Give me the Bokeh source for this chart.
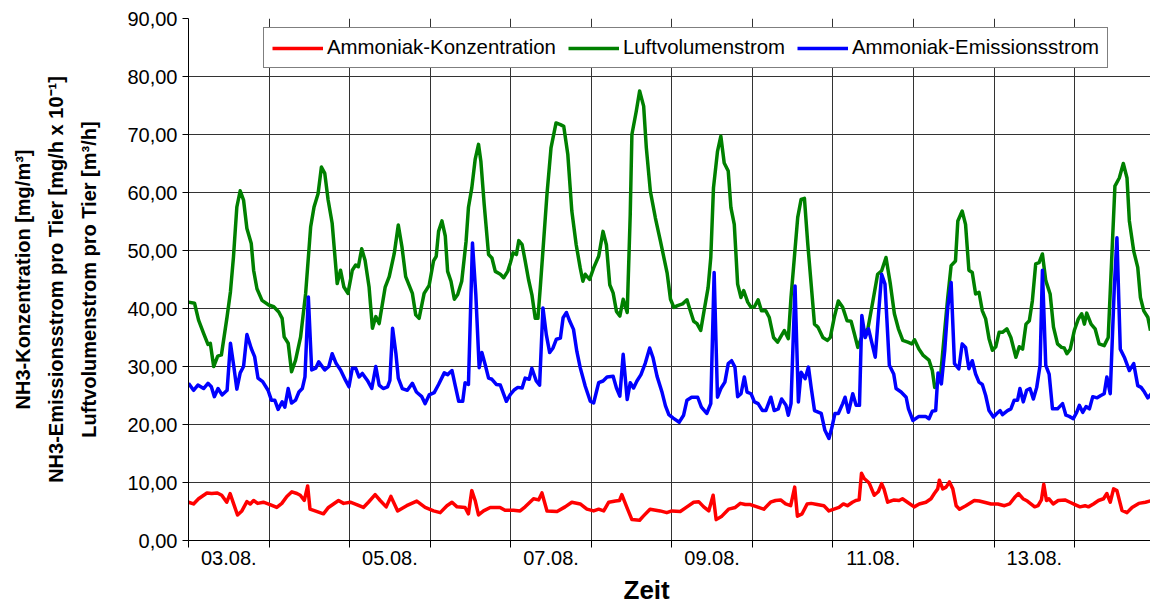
from bokeh.plotting import figure
from bokeh.models import Range1d, FixedTicker, CustomJSTickFormatter, Title
from bokeh.embed import file_html
from bokeh.resources import INLINE

# ---------------- data (hours since 03.08. 00:00) ----------------
day_labels = ["03.08.", "05.08.", "07.08.", "09.08.", "11.08.", "13.08."]
n_days = 12
y_ticks = [0, 10, 20, 30, 40, 50, 60, 70, 80, 90]

conc_h = [0, 1.5, 3, 5.5, 6.9, 8.6, 9.9, 11.4, 12.4, 13.4, 14.6, 15.9, 17.4, 18.4, 19.4, 20.6, 22.3,
          24.3, 26.3, 27.8, 29.3, 30.8, 32.3, 33.3, 34.5, 35.5, 36.2, 37.7, 40.2, 41.7, 44.7, 46.2,
          48.2, 50.1, 52.1, 53.6, 55.6, 57.1, 58.9, 60.3, 62.3, 65, 68, 70.5, 73, 75, 77, 78.5, 80,
          82.4, 83.4, 84.4, 85.4, 86.4, 87.9, 89.9, 92.8, 94.3, 96.8, 98.8, 100.3, 102.8, 104.3, 105.3,
          106.8, 109.8, 112.2, 114.2, 116.7, 118.7, 120.7, 122.2, 123.7, 125.2, 127.2, 128.4, 129.1,
          130.6, 132.1, 134.4, 135.5, 137.5, 140.5, 142.5, 144, 146.5, 148.5, 150.5, 152, 153.5, 155,
          156.3, 157.2, 158.9, 160.9, 162.9, 164.4, 165.9, 167.4, 169.4, 171.4, 173.4, 174.9, 176.4,
          177.9, 179.4, 180.6, 181.4, 182.8, 184.3, 185.5, 187.3, 189.3, 190.8, 192.3, 193.8, 195.1,
          196.3, 197.8, 198.8, 199.8, 200.5, 201.3, 202.8, 204.3, 205.5, 206.5, 207.2, 208.3, 210.2,
          211.7, 212.7, 214.2, 216.2, 217.7, 219.7, 221.2, 222.2, 223.2, 223.7, 224.7, 225.7, 226.7,
          227.7, 228.7, 229.7, 231.6, 234.1, 235.6, 237.1, 239.1, 241.1, 243.1, 244.6, 246.1, 247.3,
          248.6, 249.9, 252.1, 253.1, 254.1, 254.8, 255.6, 256.3, 257.6, 259.1, 261.1, 262.6, 264.1,
          265.6, 267.1, 268.1, 269.6, 271.1, 272.6, 273.6, 274.6, 275.6, 276.6, 278.1, 279.6, 281.1,
          283.1, 285.1, 287.1]
conc_v = [6.6, 6.3, 7.2, 8.2, 8.1, 8.2, 7.8, 6.6, 8.1, 6.4, 4.4, 5.1, 6.7, 6.3, 6.9, 6.4, 6.6,
          6.2, 5.7, 6.4, 7.6, 8.4, 8.1, 7.8, 6.9, 9.4, 5.4, 5.1, 4.6, 5.7, 6.9, 6.4,
          6.6, 6.2, 5.7, 6.6, 7.9, 6.9, 5.8, 7.6, 5.1, 6.0, 6.8, 5.7, 5.1, 4.8, 6.0, 6.6, 5.8,
          5.7, 4.6, 8.6, 6.9, 4.4, 5.1, 5.7, 5.7, 5.2, 5.2, 5.1, 5.8, 7.2, 7.0, 8.2,
          5.1, 5.0, 5.8, 6.6, 6.3, 5.4, 5.1, 5.4, 5.1, 6.6, 6.8, 6.9, 7.9,
          5.7, 3.6, 3.5, 4.2, 5.4, 5.1, 4.8, 5.1, 5.0, 5.8, 6.6, 6.7, 5.8, 5.1,
          7.8, 3.6, 4.2, 5.4, 5.7, 6.4, 6.2, 6.2, 5.8, 5.4, 6.6, 6.9, 7.0,
          6.3, 6.0, 9.2, 4.2, 4.6, 6.3, 6.4, 6.2, 6.0, 5.1, 5.4, 5.7, 6.3,
          6.0, 6.6, 6.9, 7.0, 11.6, 10.7, 9.9, 7.8, 8.4, 9.8, 8.9, 6.6, 7.0,
          6.9, 7.2, 6.6, 5.8, 6.3, 6.6, 7.2, 8.1, 8.9, 10.4, 8.9, 9.2, 10.1,
          8.9, 6.0, 5.4, 6.0, 6.9, 6.8, 6.6, 6.3, 6.3, 6.0, 6.3, 7.4, 8.1,
          7.2, 6.8, 5.8, 6.0, 7.0, 9.7, 6.9, 7.2, 6.3, 6.9, 7.0, 6.6, 6.2,
          5.8, 6.0, 5.8, 6.3, 6.9, 7.2, 8.1, 6.6, 8.9, 8.6, 5.2, 4.8, 5.7,
          6.4, 6.6, 6.9]

air_h = [0, 1.8, 3, 4.5, 5.8, 6.5, 7.5, 8.7, 9.8, 11.5, 12.5, 13.4, 14.4, 15.4, 16.4, 17.4, 18.7,
         19.4, 20.4, 21.9, 23.9, 25.4, 26.9, 27.9, 28.5, 29.7, 30.7, 31.9, 33.4, 34.9, 36.4, 37.4,
         38.6, 39.6, 40.6, 41.6, 42.8, 44.3, 45.3, 46.3, 47.5, 48.8, 49.8, 50.6, 51.6, 52.6, 53.8,
         54.8, 55.8, 56.8, 58.6, 59.8, 61.3, 62.5, 63.6, 64.7, 66.7, 67.7, 68.7, 70.2, 71.7, 73,
         73.8, 74.5, 75.5, 76.5, 77.2, 78.2, 79.2, 80.2, 81.4, 82.7, 83.4, 84.4, 85.4, 86.4, 87.1,
         88.1, 89.4, 90.4, 91.4, 92.9, 93.9, 95.1, 95.9, 96.7, 97.7, 98.4, 99.4, 100.3, 101.3,
         102.3, 103.3, 104.1, 104.8, 105.8, 106.8, 108, 109.5, 110.8, 111.8, 113, 114.2, 115.5,
         116.7, 117.5, 118.2, 119.5, 120.7, 122.2, 123.5, 124.5, 125.5, 126.5, 127.5, 128.5, 129.5,
         130.7, 131.6, 132.1, 133.4, 134.4, 135.6, 136.4, 137.6, 139.1, 140.6, 142.6, 143.6, 144.6,
         145.7, 147.2, 148.5, 149.5, 150.5, 151.5, 152.6, 153.6, 154.8, 155.6, 156.4, 157.6, 158.6,
         159.6, 160.8, 161.6, 162.6, 163.6, 164.6, 165.4, 166.6, 167.6, 168.6, 169.7, 170.7, 172,
         173, 174.3, 175.5, 177.5, 178.7, 179.5, 180.5, 181.5, 182.5, 183.5, 184.5, 185.5, 186.5,
         187.5, 189, 190.3, 191.2, 192.4, 193.6, 194.9, 196.2, 197.4, 198.4, 199.4, 200.9, 202.4,
         203.9, 205.3, 206.5, 207.8, 209.1, 210.3, 211.5, 212.8, 214.3, 215.5, 216.3, 217.6, 218.9,
         220.6, 221.6, 222.3, 223.1, 224.1, 225.1, 226.2, 227.2, 228.5, 229.2, 230.5, 231.5, 232.5,
         233.5, 234.5, 235.5, 236.5, 237.5, 238.5, 239.5, 240.5, 241.5, 242.5, 243.8, 245, 246.5,
         247.5, 248.5, 249.5, 250.5, 251.4, 252.4, 253.4, 254.4, 255.4, 256.7, 257.7, 258.9, 260.1,
         260.9, 261.7, 262.7, 263.9, 265.1, 266.1, 266.9, 267.6, 268.9, 270.1, 271.3, 272.8, 274,
         274.8, 276, 277.3, 278.5, 279.6, 280.3, 281.6, 282.8, 283.6, 284.6, 285.8, 286.6]
air_v = [41.1, 40.9, 38.0, 35.7, 33.8, 34.0, 30.0, 31.8, 32.0, 38.6, 42.9, 48.9, 57.5, 60.3, 58.7, 53.8, 51.2,
         46.6, 43.4, 41.4, 40.6, 40.3, 39.4, 38.3, 35.1, 34.0, 29.1, 31.1, 35.1, 42.6, 54.1, 57.5,
         59.8, 64.4, 63.3, 58.7, 54.7, 44.3, 46.6, 43.7, 42.6, 46.6, 47.5, 47.2, 50.3, 48.3, 43.7,
         36.6, 38.6, 37.4, 43.7, 45.5, 49.5, 54.4, 50.6, 45.5, 42.6, 38.9, 38.3, 42.6, 44.0, 48.2,
         49.0, 53.3, 55.1, 52.5, 46.4, 44.7, 41.6, 42.4, 44.7, 51.6, 57.4, 60.8, 65.7, 68.3, 65.4,
         57.9, 49.3, 48.7, 46.4, 45.9, 45.3, 46.4, 47.9, 49.6, 49.3, 51.7, 51.0, 48.2, 45.0,
         42.4, 38.3, 38.3, 43.6, 51.6, 59.7, 67.7, 72.0, 71.7, 71.4, 66.6, 56.8, 51.0,
         47.0, 44.7, 45.9, 45.0, 47.0, 49.0, 53.3, 51.0, 44.1, 42.7, 39.5, 38.7, 41.6,
         39.3, 56.2, 70.0, 74.0, 77.5, 74.9, 67.7, 60.2, 55.6, 51.6, 46.1, 41.6, 40.2,
         40.5, 40.8, 41.5, 39.6, 37.8, 37.4, 36.2, 39.6, 43.6, 48.8, 60.8, 67.1, 69.7,
         65.1, 63.7, 57.4, 54.5, 44.2, 41.9, 43.1, 41.1, 40.2, 40.3, 41.5, 39.6, 39.6,
         38.5, 35.0, 34.2, 36.2, 34.8, 41.9, 48.8, 55.7, 58.8, 59.0, 51.1, 44.2, 37.3,
         36.8, 35.0, 34.5, 35.0, 38.5, 41.3, 40.2, 37.9, 37.8, 35.6, 33.3, 35.6, 36.5,
         41.3, 45.9, 46.5, 48.8, 44.2, 39.1, 36.5, 34.5, 34.2, 33.9, 34.6, 33.0, 31.9,
         31.1, 29.3, 26.4, 27.0, 28.7, 35.0, 41.9, 47.4, 48.2, 55.1, 56.8, 54.5, 46.6,
         46.2, 42.5, 42.8, 39.6, 38.2, 34.8, 32.8, 33.4, 35.9, 35.9, 36.5, 35.0, 31.6,
         33.4, 33.0, 37.3, 37.9, 41.3, 47.7, 47.9, 49.4, 44.8, 42.5, 36.8, 33.9, 33.3,
         33.2, 32.2, 33.0, 36.2, 38.2, 39.1, 37.3, 39.2, 37.3, 36.5, 33.9, 33.6, 35.0,
         45.4, 61.1, 62.5, 65.0, 62.5, 55.1, 49.9, 47.1, 41.9, 39.6, 38.5, 36.2]

em_h = [0, 1.5, 2.8, 4.5, 5.8, 6.8, 7.7, 8.8, 10, 11.5, 12.5, 13.5, 14.4, 15.4, 16.4, 17.4, 18.7,
        19.7, 20.7, 22.1, 23.7, 24.7, 25.7, 26.7, 27.9, 28.7, 29.7, 30.7, 31.9, 32.9, 33.9, 34.7,
        35.7, 36.7, 37.9, 38.8, 40.6, 41.8, 42.8, 44, 45.3, 46.8, 47.8, 48.8, 49.8, 50.8, 51.8,
        53.3, 54.6, 55.8, 56.8, 58, 59.3, 60, 60.8, 61.8, 62.5, 63.7, 65.2, 66.7, 67.9, 69.5,
        70.5, 71.7, 73.2, 74.5, 76.2, 77.2, 78.5, 79.5, 80.5, 81.7, 82.4, 83.4, 84.6, 85.6, 86.6,
        87.4, 88.4, 89.4, 90.4, 91.7, 92.9, 94.7, 95.9, 97.1, 98.1, 99.4, 100.3, 101.5, 102.3,
        103.6, 104.6, 105.6, 106.6, 107.6, 108.6, 109.6, 110.8, 111.6, 112.6, 113.6, 114.7, 115.7,
        116.7, 118.2, 119.7, 120.7, 122.2, 123.5, 124.7, 126.5, 127.5, 128.5, 129.5, 130.7, 131.6,
        132.6, 133.6, 134.8, 136.1, 137.4, 138.4, 139.6, 141.1, 142.1, 143.1, 144.4, 146.2, 147.5,
        148.5, 149.9, 151.7, 152.8, 154.4, 155.6, 156.6, 157.6, 158.6, 159.8, 160.8, 161.8, 162.8,
        163.6, 164.6, 165.6, 166.4, 167.6, 168.6, 169.7, 171, 172, 173.5, 174.5, 175.7, 176.7,
        178, 178.7, 179.5, 180.7, 181.7, 182.5, 183.7, 184.7, 185.5, 186.5, 188.5, 189.6, 190.8,
        191.6, 192.6, 193.6, 194.9, 195.6, 196.6, 197.9, 198.9, 199.9, 200.6, 201.6, 202.6, 204.6,
        205.5, 206.5, 207.5, 208.8, 210.1, 210.8, 212.3, 213.8, 214.5, 215.8, 217.6, 219.6, 220.6,
        221.6, 222.6, 223.3, 224.3, 225.3, 226.2, 227.2, 228.2, 229.5, 230.5, 231.5, 232.5, 233.5,
        234.5, 235.5, 236.5, 237.5, 238.5, 239.8, 240.8, 241.8, 242.5, 244, 245, 246, 247, 247.7,
        248.7, 249.7, 250.7, 251.7, 252.7, 253.7, 254.4, 255.4, 256.4, 257.4, 258.9, 260.4, 261.4,
        262.4, 263.6, 264.6, 265.4, 266.4, 267.4, 268.4, 269.4, 270.7, 271.8, 272.8, 273.6, 274.6,
        275.8, 276.6, 277.6, 278.8, 280.3, 281.6, 282.8, 283.8, 284.8, 285.8, 286.8]
em_v = [27.1, 25.9, 26.8, 26.2, 27.1, 26.5, 24.8, 26.2, 25.1, 25.9, 34.0, 30.0, 26.1, 28.9, 30.0, 35.5, 33.1,
        31.7, 28.0, 27.4, 25.9, 24.2, 24.2, 22.6, 23.9, 23.0, 26.2, 23.7, 24.2, 25.6, 26.2, 28.2,
        42.0, 29.4, 29.7, 30.8, 29.4, 30.0, 32.2, 30.5, 29.4, 27.6, 26.5, 29.7, 29.7, 28.2, 28.8,
        27.6, 26.2, 30.0, 26.8, 26.2, 26.5, 27.6, 36.6, 32.2, 28.0, 26.2, 25.9, 27.1, 25.6, 24.8,
        23.6, 25.1, 25.5, 26.9, 28.9, 28.6, 29.3, 26.6, 24.0, 24.0, 27.2, 26.9, 51.3, 42.4, 29.8,
        32.4, 30.3, 28.0, 27.8, 26.9, 26.8, 24.0, 25.2, 26.0, 26.4, 26.3, 28.0, 27.8, 29.7,
        27.5, 26.8, 40.1, 35.5, 32.4, 33.2, 34.7, 34.9, 38.4, 39.3, 37.8, 36.4, 32.6,
        29.8, 26.6, 24.0, 23.7, 27.2, 27.5, 28.2, 28.3, 26.3, 24.9, 32.1, 24.3, 27.2,
        26.3, 27.5, 28.6, 30.6, 33.2, 31.5, 28.3, 25.5, 23.2, 21.7, 21.1, 20.4, 21.6,
        24.2, 24.7, 24.7, 23.0, 21.9, 23.6, 46.2, 24.7, 26.2, 27.3, 30.5, 31.0, 29.9,
        24.8, 25.3, 28.2, 25.6, 25.3, 23.9, 23.6, 22.4, 22.4, 24.7, 22.4, 22.7, 24.4,
        23.3, 21.6, 23.6, 43.9, 23.9, 29.0, 27.9, 29.9, 26.4, 22.4, 21.9, 19.0, 17.6,
        19.3, 21.9, 21.9, 23.6, 24.7, 22.1, 25.3, 23.3, 23.3, 38.8, 35.0, 36.5, 31.6,
        38.5, 45.9, 44.2, 30.2, 28.7, 26.2, 25.6, 24.7, 22.7, 20.7, 21.4, 21.4, 21.0,
        22.3, 22.4, 28.9, 27.0, 32.8, 40.2, 44.5, 30.5, 29.6, 33.9, 33.3, 29.6, 31.0,
        28.7, 27.3, 26.9, 25.0, 22.4, 21.3, 21.9, 22.4, 21.7, 22.4, 22.7, 24.2, 24.2, 26.2,
        23.9, 25.9, 26.2, 24.4, 26.4, 30.2, 46.6, 30.2, 28.7, 22.7, 22.7, 23.6, 21.6,
        21.4, 21.0, 22.1, 23.3, 22.1, 23.1, 22.7, 24.8, 24.6, 25.0, 25.3, 28.2, 25.3,
        43.4, 52.2, 33.0, 31.6, 29.3, 30.5, 26.7, 26.4, 25.6, 24.6, 25.3]

series_names = ["Ammoniak-Konzentration", "Luftvolumenstrom", "Ammoniak-Emissionsstrom"]
series_colors = ["#ff0000", "#008000", "#0000ff"]
y_title_lines = ["NH3-Konzentration [mg/m³]",
                 "NH3-Emissionsstrom pro Tier [mg/h x 10⁻¹]",
                 "Luftvolumenstrom pro Tier [m³/h]"]

# ---------------- figure ----------------
FONT = "Liberation Sans"
day_edges = [24 * d for d in range(n_days + 1)]
label_pos = [24 * (2 * i) + 12 for i in range(len(day_labels))]

p = figure(width=1150, height=610, x_range=Range1d(0, 286.6), y_range=Range1d(0, 90),
           output_backend="svg", toolbar_location=None,
           min_border_left=188, min_border_right=0, min_border_top=18, min_border_bottom=70)
p.outline_line_color = None
p.background_fill_color = "white"

for h, v, name, col in zip([conc_h, air_h, em_h], [conc_v, air_v, em_v], series_names, series_colors):
    p.line(h, v, line_color=col, line_width=3.5, line_join="round", legend_label=name)

# grid
p.xgrid.ticker = FixedTicker(ticks=day_edges)
p.ygrid.ticker = FixedTicker(ticks=y_ticks)
for g in (p.xgrid[0], p.ygrid[0]):
    g.grid_line_color = "#333333"
    g.grid_line_width = 1

# x axis
xa = p.xaxis[0]
xa.ticker = FixedTicker(ticks=label_pos, minor_ticks=day_edges)
xa.major_label_overrides = {pos: lab for pos, lab in zip(label_pos, day_labels)}
xa.major_tick_out = 0
xa.major_tick_in = 0
xa.minor_tick_out = 7
xa.minor_tick_in = 0
xa.minor_tick_line_color = "black"
xa.axis_line_color = "black"
xa.major_label_standoff = 3
xa.major_label_text_font = FONT
xa.major_label_text_font_size = "20px"
xa.major_label_text_color = "black"

# y axis
ya = p.yaxis[0]
ya.ticker = FixedTicker(ticks=y_ticks)
ya.formatter = CustomJSTickFormatter(code="return tick.toFixed(2).replace('.', ',');")
ya.major_tick_out = 6
ya.major_tick_in = 0
ya.minor_tick_out = 0
ya.major_tick_line_color = "black"
ya.axis_line_color = "black"
ya.major_label_standoff = 5
ya.major_label_text_font = FONT
ya.major_label_text_font_size = "20px"
ya.major_label_text_color = "black"
ya.axis_label = "\n".join(y_title_lines)
ya.axis_label_text_font = FONT
ya.axis_label_text_font_style = "bold"
ya.axis_label_text_font_size = "20px"
ya.axis_label_text_color = "black"
ya.axis_label_text_line_height = 1.5
ya.axis_label_standoff = 24

# x title
p.add_layout(Title(text="Zeit", align="left", offset=435, text_font=FONT,
                   text_font_size="26px", text_font_style="bold", text_color="black",
                   standoff=10), "below")

# legend
lg = p.legend[0]
lg.orientation = "horizontal"
lg.location = (75, 472)
lg.border_line_color = "black"
lg.border_line_width = 1
lg.background_fill_color = "white"
lg.background_fill_alpha = 1
lg.label_text_font = FONT
lg.label_text_font_size = "20.4px"
lg.label_text_color = "black"
lg.glyph_width = 51
lg.glyph_height = 20
lg.label_standoff = 4
lg.spacing = 12
lg.padding = 8
lg.margin = 0

open("out.html", "w").write(file_html(p, INLINE))
